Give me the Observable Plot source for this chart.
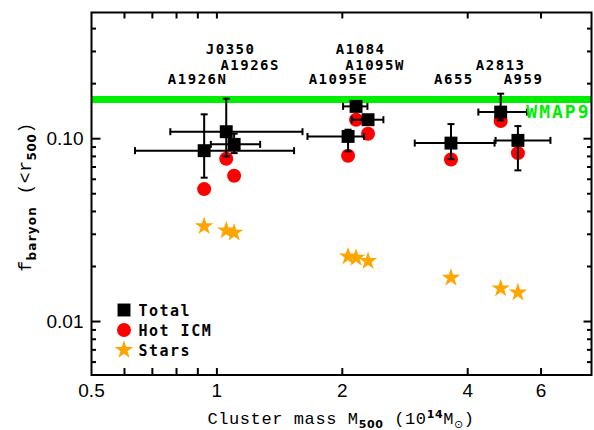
<!DOCTYPE html>
<html>
<head>
<meta charset="utf-8">
<script src="https://cdn.jsdelivr.net/npm/d3@7"></script>
<script src="https://cdn.jsdelivr.net/npm/@observablehq/plot@0.6"></script>
<style>
  html, body { margin: 0; padding: 0; background: #fff; }
  #chart { position: relative; width: 594px; height: 430px; }
  g[font-family="DejaVu Sans Mono"] text { letter-spacing: 1.5px; }
  g[font-family="DejaVu Sans Mono"][fill="#00ee00"] text { letter-spacing: 2px; }
</style>
</head>
<body>
<div id="chart"></div>
<script>
// ---- data ----
const clusters = ["A1926N", "J0350", "A1926S", "A1095E", "A1084", "A1095W", "A655", "A2813", "A959"];
const mass     = [0.932, 1.053, 1.10, 2.065, 2.158, 2.306, 3.647, 4.80, 5.28];
const massLo   = [0.636, 0.773, 0.967, 1.65, 2.009, 2.107, 2.985, 4.243, 4.667];
const massHi   = [1.532, 1.605, 1.27, 2.256, 2.298, 2.51, 4.64, 5.55, 6.32];
const fTotal   = [0.0860, 0.1092, 0.0931, 0.1029, 0.1502, 0.127, 0.0946, 0.1398, 0.0979];
const fTotalLo = [0.0612, 0.080, 0.0834, 0.0852, 0.145, 0.123, 0.0773, 0.126, 0.0671];
const fTotalHi = [0.1359, 0.1656, 0.1065, 0.112, 0.156, 0.131, 0.1202, 0.1763, 0.1172];
const fGas     = [0.053, 0.0777, 0.0627, 0.0807, 0.127, 0.1065, 0.077, 0.1248, 0.0834];
const fStars   = [0.0332, 0.0315, 0.0306, 0.0227, 0.0223, 0.0214, 0.01734, 0.01517, 0.0144];
// cluster name label anchors (data units)
const labelMass = [0.899, 1.079, 1.202, 1.958, 2.214, 2.397, 3.707, 4.80, 5.447];
const labelF    = [0.21, 0.308, 0.252, 0.21, 0.308, 0.252, 0.21, 0.252, 0.21];
const fWMAP9 = 0.164;
const wmapLabel = "WMAP9";
const legendLabels = ["Total", "Hot ICM", "Stars"];

// axis ticks
const xTicks = [0.6, 0.7, 0.8, 0.9, 1, 2, 4, 6];
const xTickLabelVals = [0.5, 1, 2, 4, 6];
const xTickLabels = ["0.5", "1", "2", "4", "6"];
const yMajor = [0.01, 0.1];
const yMinor = [0.006, 0.007, 0.008, 0.009, 0.02, 0.03, 0.04, 0.05, 0.06, 0.07, 0.08, 0.09, 0.2, 0.3, 0.4];
const yTickLabels = ["0.01", "0.10"];

const xDomain = [0.5, 7.93];
const yDomain = [0.0051, 0.49];

// ---- build table ----
const data = clusters.map((name, i) => ({
  name, mass: mass[i], massLo: massLo[i], massHi: massHi[i],
  total: fTotal[i], totalLo: fTotalLo[i], totalHi: fTotalHi[i],
  gas: fGas[i], stars: fStars[i], lx: labelMass[i], ly: labelF[i]
}));

const seg = (x0, y0, x1, y1) => ({draw(ctx) { ctx.moveTo(x0, y0); ctx.lineTo(x1, y1); }});
const capV = seg(0, -3.5, 0, 3.5);
const capH = seg(-3.5, 0, 3.5, 0);
const black = "#000";
const red = "#ff0000";
const orange = "#ffa500";
const green = "#00ee00";

const chart = Plot.plot({
  width: 594,
  height: 430,
  marginLeft: 91,
  marginRight: 3,
  marginTop: 12,
  marginBottom: 55.5,
  style: {background: "#fff", overflow: "visible"},
  x: {type: "log", domain: xDomain, axis: null},
  y: {type: "log", domain: yDomain, axis: null},
  marks: [
    Plot.ruleY([fWMAP9], {stroke: green, strokeWidth: 7}),
    // stars
    Plot.dot(data, {x: "mass", y: "stars", symbol: "star", r: 5.8, fill: orange, stroke: "none"}),
    // hot ICM
    Plot.dot(data, {x: "mass", y: "gas", symbol: "circle", r: 7, fill: red, stroke: "none"}),
    // error bars
    Plot.ruleY(data, {y: "total", x1: "massLo", x2: "massHi", stroke: black, strokeWidth: 2}),
    Plot.ruleX(data, {x: "mass", y1: "totalLo", y2: "totalHi", stroke: black, strokeWidth: 2}),
    Plot.dot(data, {x: "massLo", y: "total", symbol: capV, r: 3, fill: "none", stroke: black, strokeWidth: 2}),
    Plot.dot(data, {x: "massHi", y: "total", symbol: capV, r: 3, fill: "none", stroke: black, strokeWidth: 2}),
    Plot.dot(data, {x: "mass", y: "totalLo", symbol: capH, r: 3, fill: "none", stroke: black, strokeWidth: 2}),
    Plot.dot(data, {x: "mass", y: "totalHi", symbol: capH, r: 3, fill: "none", stroke: black, strokeWidth: 2}),
    // totals
    Plot.dot(data, {x: "mass", y: "total", symbol: "square", r: 7.3, fill: black, stroke: "none"}),
    // WMAP9 label
    Plot.text([wmapLabel], {text: d => d, y: () => fWMAP9, frameAnchor: "right", dx: -1, dy: 13, textAnchor: "end",
      fill: green, fontSize: 18, fontWeight: "bold", fontFamily: "DejaVu Sans Mono"}),
    // cluster labels
    Plot.text(data, {x: "lx", y: "ly", text: "name", fontSize: 14, fontWeight: "bold",
      fontFamily: "DejaVu Sans Mono", fill: black}),
    // legend
    Plot.dot([legendLabels[0]], {frameAnchor: "bottom-left", dx: 32.5, dy: -65, symbol: "square", r: 7.3, fill: black}),
    Plot.dot([legendLabels[1]], {frameAnchor: "bottom-left", dx: 32.5, dy: -45, symbol: "circle", r: 7, fill: red}),
    Plot.dot([legendLabels[2]], {frameAnchor: "bottom-left", dx: 32.5, dy: -25, symbol: "star", r: 5.8, fill: orange}),
    Plot.text([legendLabels.join("\n")], {text: d => d, frameAnchor: "bottom-left", dx: 47, dy: -45,
      textAnchor: "start", lineAnchor: "middle", lineHeight: 20 / 15, fontSize: 15, fontWeight: "bold",
      fontFamily: "DejaVu Sans Mono", fill: black}),
    // frame
    Plot.frame({stroke: black, strokeWidth: 2}),
    // ticks (inward)
    Plot.dot(xTicks, {x: d => d, frameAnchor: "bottom", symbol: seg(0, 0, 0, -7), r: 3, fill: "none", stroke: black, strokeWidth: 2}),
    Plot.dot(xTicks, {x: d => d, frameAnchor: "top", symbol: seg(0, 0, 0, 6), r: 3, fill: "none", stroke: black, strokeWidth: 2}),
    Plot.dot(yMajor, {y: d => d, frameAnchor: "left", symbol: seg(0, 0, 9, 0), r: 3, fill: "none", stroke: black, strokeWidth: 2}),
    Plot.dot(yMinor, {y: d => d, frameAnchor: "left", symbol: seg(0, 0, 4.5, 0), r: 3, fill: "none", stroke: black, strokeWidth: 2}),
    Plot.dot(yMajor, {y: d => d, frameAnchor: "right", symbol: seg(0, 0, -8, 0), r: 3, fill: "none", stroke: black, strokeWidth: 2}),
    Plot.dot(yMinor, {y: d => d, frameAnchor: "right", symbol: seg(0, 0, -4.5, 0), r: 3, fill: "none", stroke: black, strokeWidth: 2}),
    // tick labels
    Plot.text(xTickLabelVals, {x: d => d, text: (d, i) => xTickLabels[i], frameAnchor: "bottom", dy: 22,
      fontSize: 19, fontFamily: "Liberation Sans", fill: black}),
    Plot.text(yMajor, {y: d => d, text: (d, i) => yTickLabels[i], frameAnchor: "left", dx: -8, textAnchor: "end",
      fontSize: 19, fontFamily: "Liberation Sans", fill: black})
  ]
});

document.getElementById("chart").appendChild(chart);

// axis titles with sub/superscripts
const svg = d3.select(chart);
const xt = svg.append("text")
  .attr("x", 341).attr("y", 424)
  .attr("text-anchor", "middle")
  .attr("font-family", "Liberation Mono").attr("font-size", 17).attr("letter-spacing", 0.6).attr("fill", black);
xt.append("tspan").text("Cluster mass M");
xt.append("tspan").attr("font-size", 11).attr("font-weight", "bold").attr("font-family", "DejaVu Sans").attr("dy", 4).text("500");
xt.append("tspan").attr("dy", -4).text(" (10");
xt.append("tspan").attr("font-size", 11).attr("font-weight", "bold").attr("font-family", "DejaVu Sans").attr("dy", -6).text("14");
xt.append("tspan").attr("dy", 6).text("M");
xt.append("tspan").attr("font-size", 11).attr("font-family", "DejaVu Sans").attr("dy", 4).text("⊙");
xt.append("tspan").attr("dy", -4).text(")");

const yt = svg.append("text")
  .attr("transform", "translate(31,197) rotate(-90)")
  .attr("text-anchor", "middle")
  .attr("font-family", "Liberation Mono").attr("font-size", 18).attr("letter-spacing", 0.6).attr("fill", black);
yt.append("tspan").text("f");
yt.append("tspan").attr("font-size", 12).attr("font-weight", "bold").attr("font-family", "DejaVu Sans").attr("dy", 5).attr("letter-spacing", 1.2).text("baryon");
yt.append("tspan").attr("dy", -5).text(" (<r");
yt.append("tspan").attr("font-size", 12).attr("font-weight", "bold").attr("font-family", "DejaVu Sans").attr("dy", 5).text("500");
yt.append("tspan").attr("dy", -5).text(")");
</script>
</body>
</html>
